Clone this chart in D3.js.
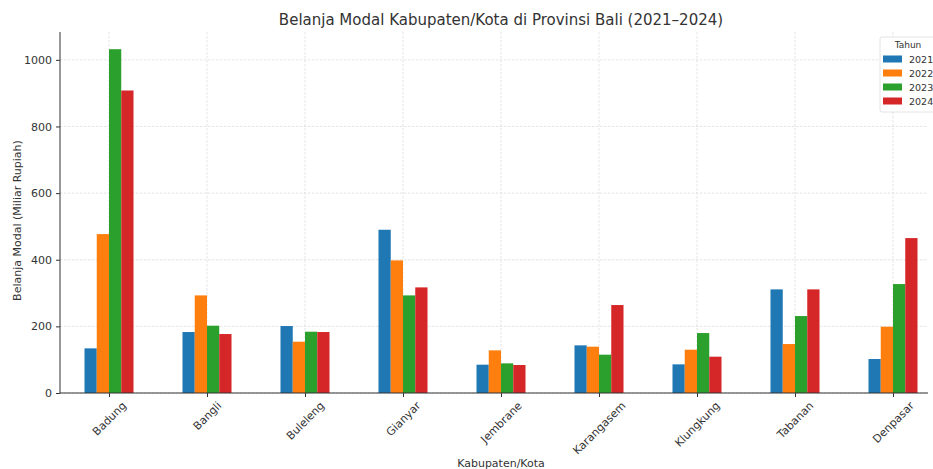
<!DOCTYPE html>
<html>
<head>
<meta charset="utf-8">
<script src="https://cdn.jsdelivr.net/npm/d3@7/dist/d3.min.js"></script>
<style>
  html, body { margin: 0; padding: 0; background: #fff; }
  svg { display: block; font-family: "DejaVu Sans", sans-serif; }
</style>
</head>
<body>
<svg id="chart" width="933" height="469"></svg>
<script>
const categories = ["Badung", "Bangli", "Buleleng", "Gianyar", "Jembrane", "Karangasem", "Klungkung", "Tabanan", "Denpasar"];
const years = ["2021", "2022", "2023", "2024"];
const values2021 = [134, 183, 201, 490, 85, 143, 86, 311, 102];
const values2022 = [477, 293, 154, 398, 128, 139, 130, 147, 199];
const values2023 = [1032, 202, 184, 293, 89, 115, 180, 231, 327];
const values2024 = [908, 177, 183, 317, 84, 264, 109, 311, 465];
const yTicks = [0, 200, 400, 600, 800, 1000];
const colors = ["#1f77b4", "#ff7f0e", "#2ca02c", "#d62728"];

const series = [values2021, values2022, values2023, values2024];

const svg = d3.select("#chart");
const mLeft = 60, mRight = 942, mTop = 32, mBottom = 393;

const x = d3.scaleLinear().domain([-0.5, categories.length - 0.5]).range([mLeft, mRight]);
const yMax = d3.max(series.flat()) * 1.05;
const y = d3.scaleLinear().domain([0, yMax]).range([mBottom, mTop]);

const groupW = 0.5;
const barW = groupW / years.length;

// grid
const grid = svg.append("g");
grid.selectAll("line.hg").data(yTicks).enter().append("line")
  .attr("x1", mLeft).attr("x2", 928)
  .attr("y1", d => y(d)).attr("y2", d => y(d))
  .attr("stroke", "#d8d8d8").attr("stroke-width", 0.7).attr("stroke-dasharray", "2.5,1.5");
grid.selectAll("line.vg").data(categories).enter().append("line")
  .attr("x1", (d, i) => x(i)).attr("x2", (d, i) => x(i))
  .attr("y1", mTop).attr("y2", mBottom)
  .attr("stroke", "#d8d8d8").attr("stroke-width", 0.7).attr("stroke-dasharray", "2.5,1.5");

// bars
series.forEach((vals, s) => {
  svg.append("g").selectAll("rect").data(vals).enter().append("rect")
    .attr("x", (d, i) => x(i - groupW / 2 + s * barW))
    .attr("width", x(barW) - x(0))
    .attr("y", d => y(d))
    .attr("height", d => y(0) - y(d))
    .attr("fill", colors[s]);
});

// y axis
const yAxis = svg.append("g").attr("transform", `translate(${mLeft},0)`)
  .call(d3.axisLeft(y).tickValues(yTicks).tickFormat(d3.format("d")).tickSizeOuter(0).tickSize(4).tickPadding(4));
yAxis.select(".domain").attr("d", `M0,${mTop}V${mBottom}`).attr("stroke", "#333").attr("stroke-width", 1);
yAxis.selectAll(".tick line").attr("stroke", "#333");
yAxis.selectAll(".tick text").attr("font-size", "11px").attr("fill", "#333").attr("font-family", "DejaVu Sans, sans-serif");

// x axis
const xAxis = svg.append("g").attr("transform", `translate(0,${mBottom})`)
  .call(d3.axisBottom(x).tickValues(d3.range(categories.length)).tickFormat(i => categories[i]).tickSizeOuter(0).tickSize(4));
xAxis.select(".domain").attr("d", `M${mLeft},0H928`).attr("stroke", "#333").attr("stroke-width", 1);
xAxis.selectAll(".tick line").attr("stroke", "#333");
xAxis.selectAll(".tick text").each(function() {
  const t = d3.select(this);
  t.attr("font-size", "11px").attr("fill", "#333").attr("font-family", "DejaVu Sans, sans-serif")
   .attr("text-anchor", "middle").attr("dy", null).attr("y", 0);
  const w = this.getComputedTextLength();
  const h = 11;
  const cy = 7 + (w + h) * Math.SQRT1_2 / 2;
  t.attr("transform", `translate(0,${cy}) rotate(-45)`).attr("dominant-baseline", "central");
});

// titles
svg.append("text").attr("x", 501).attr("y", 25).attr("text-anchor", "middle")
  .attr("font-size", "15px").attr("fill", "#333").text("Belanja Modal Kabupaten/Kota di Provinsi Bali (2021–2024)");
svg.append("text").attr("x", 501).attr("y", 467).attr("text-anchor", "middle")
  .attr("font-size", "11px").attr("fill", "#333").text("Kabupaten/Kota");
svg.append("text").attr("transform", `translate(21,${(mTop + mBottom) / 2 + 8}) rotate(-90)`)
  .attr("text-anchor", "middle").attr("font-size", "11px").attr("fill", "#333")
  .text("Belanja Modal (Miliar Rupiah)");

// legend
const lg = svg.append("g").attr("transform", "translate(880,37)");
lg.append("rect").attr("x", 0).attr("y", 0).attr("width", 62).attr("height", 75).attr("rx", 2)
  .attr("fill", "#fff").attr("fill-opacity", 0.85).attr("stroke", "#ddd").attr("stroke-width", 0.8);
lg.append("text").attr("x", 28).attr("y", 11).attr("text-anchor", "middle")
  .attr("font-size", "9px").attr("fill", "#333").text("Tahun");
const items = lg.selectAll("g.item").data(years).enter().append("g")
  .attr("transform", (d, i) => `translate(0,${22 + i * 14})`);
items.append("rect").attr("x", 3).attr("y", -3.5).attr("width", 19).attr("height", 7)
  .attr("fill", (d, i) => colors[i]);
items.append("text").attr("x", 29).attr("y", 0).attr("dominant-baseline", "central")
  .attr("font-size", "9.5px").attr("fill", "#333").text(d => d);
</script>
</body>
</html>
